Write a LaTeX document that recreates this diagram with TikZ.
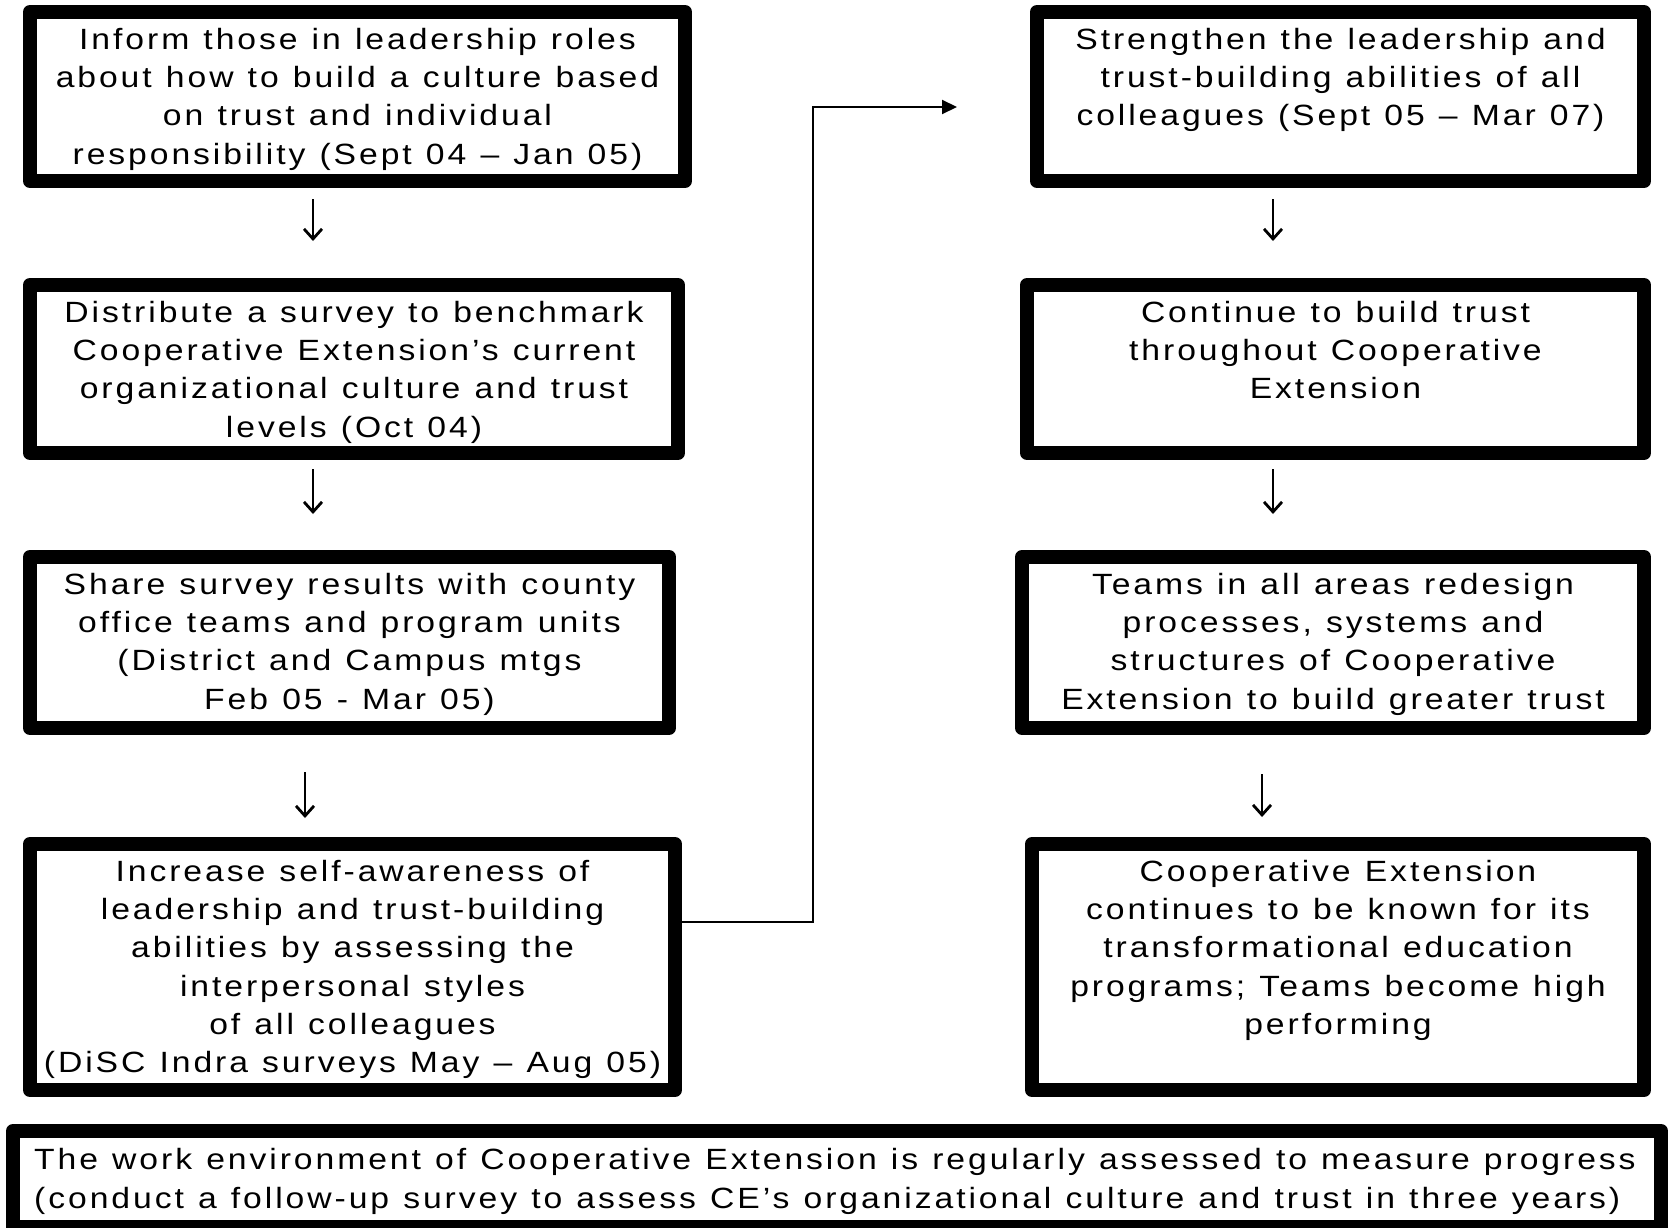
\documentclass[tikz,border=0pt]{standalone}
\usepackage{fontspec}
\setmainfont{Liberation Sans}[FakeStretch=1.15, LetterSpace=10, WordSpace=1.15]
\usetikzlibrary{arrows.meta}
\begin{document}
\begin{tikzpicture}[x=1pt,y=-1pt,
  box/.style={draw=black, line width=14pt, line join=round, inner sep=0pt, outer sep=0pt},
  txt/.style={anchor=north, align=center, inner sep=0pt, font=\fontsize{29.3}{38.3}\selectfont},
  dnarrow/.style={line width=2pt, -{Straight Barb[length=10pt,width=18pt,line width=2.8pt]}},
  conn/.style={line width=2pt, -{Triangle[length=15pt,width=14pt]}}]
\useasboundingbox (0,0) rectangle (1670,1228);
% left column
\node[box, minimum width=655pt, minimum height=169pt] (b1) at (357.5,96.5) {};
\node[box, minimum width=648pt, minimum height=168pt] (b2) at (354,369) {};
\node[box, minimum width=639pt, minimum height=171pt] (b3) at (349.5,642.5) {};
\node[box, minimum width=645pt, minimum height=246pt] (b4) at (352.5,967) {};
% right column
\node[box, minimum width=607pt, minimum height=169pt] (r1) at (1340.5,96.5) {};
\node[box, minimum width=617pt, minimum height=168pt] (r2) at (1335.5,369) {};
\node[box, minimum width=622pt, minimum height=171pt] (r3) at (1333,642.5) {};
\node[box, minimum width=612pt, minimum height=246pt] (r4) at (1338,967) {};
% bottom
\node[box, minimum width=1648pt, minimum height=96pt] (b9) at (837,1179) {};
% texts
\node[txt] (t1) at ([yshift=-10.2pt]b1.north) {\strut Inform those in leadership roles\\about how to build a culture based\\on trust and individual\\responsibility (Sept 04 – Jan 05)};
\node[txt] (t2) at ([yshift=-10.2pt]b2.north) {\strut Distribute a survey to benchmark\\Cooperative Extension’s current\\organizational culture and trust\\levels (Oct 04)};
\node[txt] (t3) at ([yshift=-10.2pt]b3.north) {\strut Share survey results with county\\office teams and program units\\(District and Campus mtgs\\Feb 05 - Mar 05)};
\node[txt] (t4) at ([yshift=-10.2pt]b4.north) {\strut Increase self-awareness of\\leadership and trust-building\\abilities by assessing the\\interpersonal styles\\of all colleagues\\(DiSC Indra surveys May – Aug 05)};
\node[txt] (s1) at ([yshift=-10.2pt]r1.north) {\strut Strengthen the leadership and\\trust-building abilities of all\\colleagues (Sept 05 – Mar 07)};
\node[txt] (s2) at ([yshift=-10.2pt]r2.north) {\strut Continue to build trust\\throughout Cooperative\\Extension};
\node[txt] (s3) at ([yshift=-10.2pt]r3.north) {\strut Teams in all areas redesign\\processes, systems and\\structures of Cooperative\\Extension to build greater trust};
\node[txt] (s4) at ([yshift=-10.2pt]r4.north) {\strut Cooperative Extension\\continues to be known for its\\transformational education\\programs; Teams become high\\performing};
\node[txt, anchor=north west, align=left] (t9) at ([xshift=21pt,yshift=-11.7pt]b9.north west) {\strut The work environment of Cooperative Extension is regularly assessed to measure progress\\(conduct a follow-up survey to assess CE’s organizational culture and trust in three years)};
% down arrows
\draw[dnarrow, shorten <=18pt, shorten >=44pt] ([xshift=-44.5pt]b1.south) -- ([xshift=-41pt]b2.north);
\draw[dnarrow, shorten <=16pt, shorten >=43pt] ([xshift=-41pt]b2.south) -- ([xshift=-36.5pt]b3.north);
\draw[dnarrow, shorten <=44pt, shorten >=26pt] ([xshift=-44.5pt]b3.south) -- ([xshift=-47.5pt]b4.north);
\draw[dnarrow, shorten <=18pt, shorten >=44pt] ([xshift=-67.5pt]r1.south) -- ([xshift=-62.5pt]r2.north);
\draw[dnarrow, shorten <=16pt, shorten >=43pt] ([xshift=-62.5pt]r2.south) -- ([xshift=-60pt]r3.north);
\draw[dnarrow, shorten <=46pt, shorten >=27pt] ([xshift=-71pt]r3.south) -- ([xshift=-76pt]r4.north);
% connector
\coordinate (cbend) at (813,107);
\coordinate (ctip) at (957,107);
\draw[conn] ([yshift=45pt]b4.east) -| (cbend) -- (ctip);
\end{tikzpicture}
\end{document}
